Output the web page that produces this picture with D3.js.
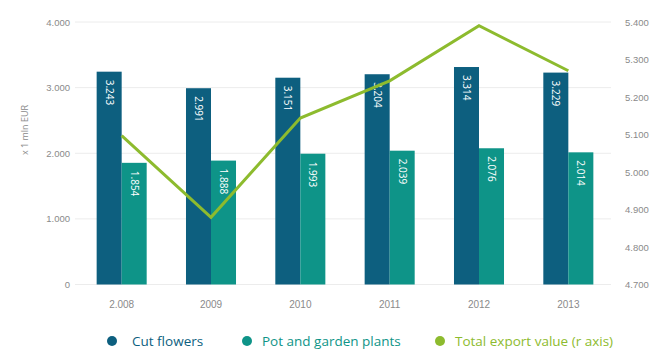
<!DOCTYPE html>
<html>
<head>
<meta charset="utf-8">
<script src="https://cdn.jsdelivr.net/npm/d3@7"></script>
<style>
  html, body { margin: 0; padding: 0; background: #fff; }
  svg { display: block; font-family: "Open Sans", "DejaVu Sans", sans-serif; }
</style>
</head>
<body>
<svg id="chart" width="651" height="349"></svg>
<script>
// Dutch floriculture exports, x 1 mln EUR
const years = ["2.008", "2009", "2010", "2011", "2012", "2013"];
const cutFlowers = [3243, 2991, 3151, 3204, 3314, 3229];
const potPlants = [1854, 1888, 1993, 2039, 2076, 2014];
const totalExport = [5097, 4879, 5144, 5243, 5390, 5270];
const leftTicks = [0, 1000, 2000, 3000, 4000];
const rightTicks = [4700, 4800, 4900, 5000, 5100, 5200, 5300, 5400];
const seriesNames = ["Cut flowers", "Pot and garden plants", "Total export value (r axis)"];

const colors = { cut: "#0d5f7f", pot: "#0e9488", total: "#8dbb2e", text: "#8a8a8a", grid: "#ececec" };
const fmt = v => d3.format(",")(v).replace(/,/g, ".");

const svg = d3.select("#chart");
const plotTop = 22, plotBottom = 284.5, plotLeft = 75, plotRight = 611;

const x = d3.scaleBand().domain(years).range([77, 613]).paddingInner(0.44).paddingOuter(0.22);
const xSub = d3.scaleBand().domain(["cut", "pot"]).range([0, x.bandwidth()]);
const yL = d3.scaleLinear().domain([0, 4000]).range([plotBottom, plotTop]);
const yR = d3.scaleLinear().domain([4700, 5400]).range([plotBottom, plotTop]);

// gridlines
svg.append("g").selectAll("line").data(leftTicks).join("line")
  .attr("x1", plotLeft).attr("x2", plotRight)
  .attr("y1", d => yL(d)).attr("y2", d => yL(d))
  .attr("stroke", colors.grid).attr("stroke-width", 1);

// left axis
const axL = svg.append("g").attr("transform", `translate(${plotLeft - 5},0)`)
  .call(d3.axisLeft(yL).tickValues(leftTicks).tickFormat(fmt).tickSize(0).tickPadding(0));
axL.select(".domain").remove();
axL.selectAll("text").attr("fill", colors.text).style("font-size", "9.5px");

// right axis
const axR = svg.append("g").attr("transform", `translate(${625},0)`)
  .call(d3.axisRight(yR).tickValues(rightTicks).tickFormat(fmt).tickSize(0).tickPadding(0));
axR.select(".domain").remove();
axR.selectAll("text").attr("fill", colors.text).style("font-size", "9.5px");

// x axis
const axX = svg.append("g").attr("transform", `translate(0,${plotBottom + 16})`)
  .call(d3.axisBottom(x).tickSize(0).tickPadding(0));
axX.select(".domain").remove();
axX.selectAll("text").attr("fill", colors.text).style("font-size", "10px");

// y axis title
svg.append("text")
  .attr("transform", `translate(28,130) rotate(-90)`)
  .attr("text-anchor", "middle")
  .attr("fill", colors.text)
  .style("font-size", "9px")
  .text("x 1 mln EUR");

// bars
const rows = years.map((yr, i) => ({ yr, cut: cutFlowers[i], pot: potPlants[i] }));
const groups = svg.append("g").selectAll("g").data(rows).join("g")
  .attr("transform", d => `translate(${x(d.yr)},0)`);

["cut", "pot"].forEach(key => {
  groups.append("rect")
    .attr("x", xSub(key))
    .attr("width", xSub.bandwidth())
    .attr("y", d => yL(d[key]))
    .attr("height", d => plotBottom - yL(d[key]))
    .attr("fill", colors[key]);
  groups.append("text")
    .attr("transform", d => `translate(${xSub(key) + xSub.bandwidth() / 2 - 3.5},${yL(d[key]) + 8}) rotate(90)`)
    .attr("fill", "#fff")
    .style("font-size", "10px")
    .text(d => fmt(d[key]));
});

// total export line on the right axis
const line = d3.line()
  .x((d, i) => x(years[i]) + x.bandwidth() / 2)
  .y(d => yR(d));
svg.append("path")
  .datum(totalExport)
  .attr("d", line)
  .attr("fill", "none")
  .attr("stroke", colors.total)
  .attr("stroke-width", 3)
  .attr("stroke-linejoin", "miter");

// legend
const legendItems = [
  { name: seriesNames[0], color: colors.cut, cx: 112, tx: 20 },
  { name: seriesNames[1], color: colors.pot, cx: 247, tx: 15 },
  { name: seriesNames[2], color: colors.total, cx: 440, tx: 15 }
];
const lg = svg.append("g").selectAll("g").data(legendItems).join("g")
  .attr("transform", d => `translate(${d.cx},341)`);
lg.append("circle").attr("r", 5).attr("fill", d => d.color);
lg.append("text")
  .attr("x", d => d.tx).attr("dy", "0.35em")
  .attr("fill", d => d.color)
  .style("font-size", "13.5px")
  .text(d => d.name);
</script>
</body>
</html>
